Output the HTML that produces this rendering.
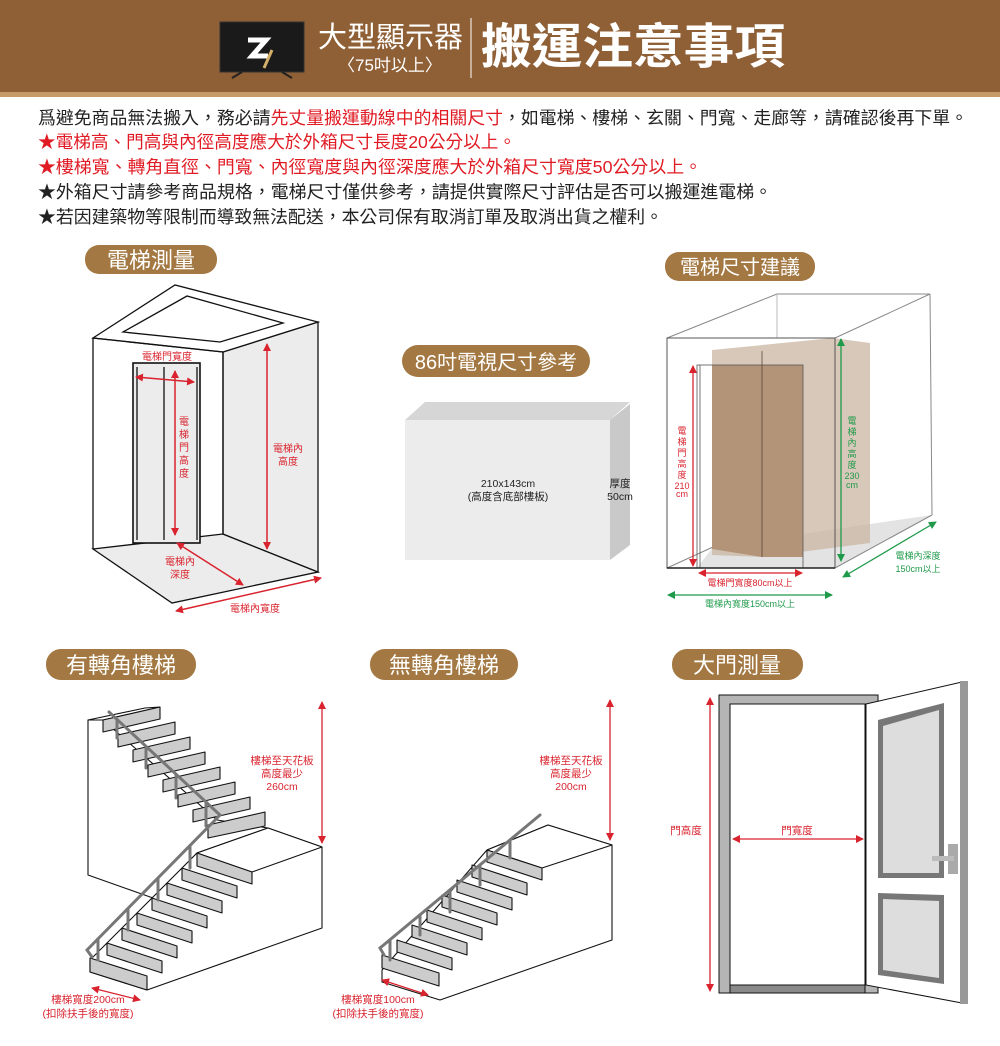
<!DOCTYPE html>
<html><head><meta charset="utf-8"><style>
body{margin:0;width:1000px;height:1046px;background:#fff;overflow:hidden;font-family:"Liberation Sans","Noto Sans CJK TC",sans-serif}
svg{display:block}
text{font-family:"Liberation Sans","Noto Sans CJK TC",sans-serif}
</style></head><body>
<svg width="1000" height="1046" viewBox="0 0 1000 1046" xmlns="http://www.w3.org/2000/svg">
<defs>
<marker id="ar" markerWidth="8" markerHeight="8" refX="7" refY="4" orient="auto-start-reverse" markerUnits="userSpaceOnUse"><path d="M0,0 L8,4 L0,8 z" fill="#d9232e"/></marker>
<marker id="ag" markerWidth="8" markerHeight="8" refX="7" refY="4" orient="auto-start-reverse" markerUnits="userSpaceOnUse"><path d="M0,0 L8,4 L0,8 z" fill="#1e9a4a"/></marker>
</defs>
<!-- header -->
<rect x="0" y="0" width="1000" height="92" fill="#8f5f36"/>
<rect x="0" y="92" width="1000" height="5" fill="#c49a66"/>
<rect x="220" y="22" width="84" height="50" fill="#1a1a1a" stroke="#333"/>
<path d="M248 40 h18 l-14 16 h16" stroke="#fff" stroke-width="5" fill="none"/>
<path d="M272 50 l-8 18" stroke="#d4b06a" stroke-width="3"/>
<path d="M232 78 l10 -6 M292 78 l-10 -6" stroke="#222" stroke-width="2"/>
<text x="318" y="47" font-size="29" fill="#fff" textLength="145" lengthAdjust="spacingAndGlyphs">大型顯示器</text>
<text x="338" y="71" font-size="17" fill="#fff">〈75吋以上〉</text>
<line x1="471" y1="18" x2="471" y2="78" stroke="#fff" stroke-width="1"/>
<text x="481" y="63" font-size="48" font-weight="bold" fill="#fff" textLength="304" lengthAdjust="spacingAndGlyphs">搬運注意事項</text>
<!-- notes -->
<g font-size="17.5">
<text x="38" y="124" fill="#222" textLength="930" lengthAdjust="spacingAndGlyphs">爲避免商品無法搬入，務必請<tspan fill="#e01b24">先丈量搬運動線中的相關尺寸</tspan>，如電梯、樓梯、玄關、門寬、走廊等，請確認後再下單。</text>
<text x="38" y="148" fill="#e01b24" textLength="478" lengthAdjust="spacingAndGlyphs">★電梯高、門高與內徑高度應大於外箱尺寸長度20公分以上。</text>
<text x="38" y="173" fill="#e01b24" textLength="664" lengthAdjust="spacingAndGlyphs">★樓梯寬、轉角直徑、門寬、內徑寬度與內徑深度應大於外箱尺寸寬度50公分以上。</text>
<text x="38" y="198" fill="#222" textLength="734" lengthAdjust="spacingAndGlyphs">★外箱尺寸請參考商品規格，電梯尺寸僅供參考，請提供實際尺寸評估是否可以搬運進電梯。</text>
<text x="38" y="223" fill="#222" textLength="625" lengthAdjust="spacingAndGlyphs">★若因建築物等限制而導致無法配送，本公司保有取消訂單及取消出貨之權利。</text>
</g>
<!-- pills -->
<g fill="#a37842">
<rect x="85" y="245" width="132" height="29" rx="14"/>
<rect x="665" y="252" width="150" height="29" rx="14"/>
<rect x="402" y="345" width="188" height="32" rx="16"/>
<rect x="46" y="649" width="150" height="31" rx="15"/>
<rect x="370" y="649" width="148" height="31" rx="15"/>
<rect x="672" y="649" width="131" height="31" rx="15"/>
</g>
<g fill="#fff" font-size="22" text-anchor="middle">
<text x="151" y="268">電梯測量</text>
<text x="740" y="274" font-size="20">電梯尺寸建議</text>
<text x="496" y="369" font-size="20">86吋電視尺寸參考</text>
<text x="121" y="673">有轉角樓梯</text>
<text x="444" y="673">無轉角樓梯</text>
<text x="737" y="673">大門測量</text>
</g>
<!-- elevator left -->
<g stroke="#111" stroke-width="1.3" fill="none">
<polygon points="93,549 223,534 318,572 172,603" fill="#ececec"/>
<polygon points="223,352 318,322 318,572 223,534" fill="#ececec"/>
<polygon points="93,338 175,285 318,322 223,352" fill="#fff"/>
<polygon points="123,332 187,296 283,323 220,342"/>
<polyline points="93,338 93,549"/>
<line x1="223" y1="352" x2="223" y2="534"/>
<line x1="93" y1="338" x2="223" y2="352"/>
<rect x="133" y="363" width="67" height="180" fill="#ececec" stroke-width="1.6"/>
<line x1="164" y1="367" x2="164" y2="540"/>
<line x1="137" y1="367" x2="137" y2="540"/>
<line x1="197" y1="367" x2="197" y2="540"/>
</g>
<g stroke="#d9232e" stroke-width="1.5">
<line x1="136" y1="377" x2="194" y2="382" marker-start="url(#ar)" marker-end="url(#ar)"/>
<line x1="175" y1="371" x2="175" y2="535" marker-start="url(#ar)" marker-end="url(#ar)"/>
<line x1="267" y1="344" x2="267" y2="549" marker-start="url(#ar)" marker-end="url(#ar)"/>
<line x1="177" y1="543" x2="243" y2="585" marker-start="url(#ar)" marker-end="url(#ar)"/>
<line x1="176" y1="611" x2="321" y2="578" marker-start="url(#ar)" marker-end="url(#ar)"/>
</g>
<g fill="#d9232e" font-size="10" text-anchor="middle">
<text x="167" y="360">電梯門寬度</text>
<text x="184" y="425">電</text><text x="184" y="438">梯</text><text x="184" y="451">門</text><text x="184" y="464">高</text><text x="184" y="477">度</text>
<text x="288" y="452">電梯內</text><text x="288" y="465">高度</text>
<text x="180" y="565">電梯內</text><text x="180" y="578">深度</text>
<text x="255" y="612">電梯內寬度</text>
</g>
<!-- 86 box -->
<polygon points="405,420 425,402 630,402 610,420" fill="#d6d6d6"/>
<polygon points="610,420 630,404 630,545 610,560" fill="#c9c9c9"/>
<rect x="405" y="420" width="205" height="140" fill="#ececec"/>
<g font-size="10.5" fill="#222" text-anchor="middle">
<text x="508" y="487">210x143cm</text>
<text x="508" y="500">(高度含底部樓板)</text>
<text x="620" y="487">厚度</text><text x="620" y="500">50cm</text>
</g>
<!-- elevator right -->
<g stroke="#888" stroke-width="1" fill="none">
<polygon points="697,568 713,547 932,515 835,568" fill="#e3e3e3" stroke="none"/>
<line x1="667" y1="338" x2="777" y2="294"/>
<line x1="777" y1="294" x2="930" y2="294"/>
<line x1="835" y1="338" x2="930" y2="294"/>
<line x1="930" y1="294" x2="932" y2="515"/>
<line x1="777" y1="294" x2="777" y2="338" stroke="#bbb"/>
<line x1="835" y1="568" x2="932" y2="515"/>
<line x1="667" y1="568" x2="713" y2="547"/>
</g>
<polygon points="712,350 833,338 870,343 870,543 762,557 712,555" fill="#cbb5a2" opacity="0.75"/>
<polygon points="712,365 803,365 803,557 762,557 712,549" fill="#b39478"/>
<line x1="762" y1="351" x2="762" y2="557" stroke="#5a4535" stroke-width="0.8"/>
<rect x="697" y="365" width="106" height="203" fill="none" stroke="#555" stroke-width="0.8"/>
<line x1="700" y1="365" x2="700" y2="568" stroke="#555" stroke-width="0.8"/>
<rect x="667" y="338" width="168" height="230" fill="none" stroke="#555" stroke-width="1"/>
<line x1="667" y1="568" x2="835" y2="568" stroke="#222" stroke-width="1.5"/>
<line x1="693" y1="366" x2="693" y2="566" stroke="#d9232e" stroke-width="1.3" marker-start="url(#ar)" marker-end="url(#ar)"/>
<line x1="841" y1="339" x2="841" y2="561" stroke="#1e9a4a" stroke-width="1.3" marker-start="url(#ag)" marker-end="url(#ag)"/>
<line x1="699" y1="573" x2="802" y2="573" stroke="#d9232e" stroke-width="1.3" marker-start="url(#ar)" marker-end="url(#ar)"/>
<line x1="668" y1="595" x2="832" y2="595" stroke="#1e9a4a" stroke-width="1.3" marker-start="url(#ag)" marker-end="url(#ag)"/>
<line x1="843" y1="577" x2="936" y2="522" stroke="#1e9a4a" stroke-width="1.3" marker-start="url(#ag)" marker-end="url(#ag)"/>
<g font-size="9" text-anchor="middle">
<g fill="#d9232e"><text x="682" y="434">電</text><text x="682" y="445">梯</text><text x="682" y="456">門</text><text x="682" y="467">高</text><text x="682" y="478">度</text><text x="682" y="489">210</text><text x="682" y="497">cm</text>
<text x="750" y="586">電梯門寬度80cm以上</text></g>
<g fill="#1e9a4a"><text x="852" y="424">電</text><text x="852" y="435">梯</text><text x="852" y="446">內</text><text x="852" y="457">高</text><text x="852" y="468">度</text><text x="852" y="479">230</text><text x="852" y="488">cm</text>
<text x="750" y="607">電梯內寬度150cm以上</text>
<text x="918" y="559">電梯內深度</text><text x="918" y="572">150cm以上</text></g>
</g>
<!-- stairs with corner -->
<g stroke="#111" stroke-width="1.1" stroke-linejoin="round">
<polygon points="88,720 88,875 153,898 197,853 268,828 217,820 103,720" fill="#fff"/>
<polygon points="268,828 322,847 322,928 147,990 90,972 90,960 197,853" fill="#fff"/>
<polygon points="197,853 268,828 322,847 252,872" fill="#fff"/>
<polygon points="88,720 103,720 160,707 145,708" fill="#fff"/>
<g fill="#ccc">
<polygon points="103,720 160,707 160,719 103,732"/>
<polygon points="118,735 175,722 175,734 118,747"/>
<polygon points="133,750 190,737 190,749 133,762"/>
<polygon points="148,765 205,752 205,764 148,777"/>
<polygon points="163,780 220,767 220,779 163,792"/>
<polygon points="178,795 235,782 235,794 178,807"/>
<polygon points="193,810 250,797 250,809 193,822"/>
<polygon points="208,825 265,812 265,826 208,838"/>
</g>
<g fill="#ccc">
<polygon points="197,853 252,872 252,884 197,866"/>
<polygon points="182,868 237,886 237,898 182,880"/>
<polygon points="167,883 222,901 222,913 167,895"/>
<polygon points="152,898 207,916 207,928 152,910"/>
<polygon points="137,913 192,931 192,943 137,925"/>
<polygon points="122,928 177,946 177,958 122,940"/>
<polygon points="107,943 162,961 162,973 107,955"/>
<polygon points="90,958 147,976 147,990 90,972"/>
</g>
</g>
<g stroke="#777" stroke-width="3" fill="none" stroke-linecap="round">
<polyline points="109,712 220,815 87,950 92,957"/>
<line x1="117" y1="720" x2="117" y2="738"/><line x1="146" y1="747" x2="146" y2="768"/><line x1="176" y1="775" x2="176" y2="798"/><line x1="206" y1="803" x2="206" y2="826"/>
<line x1="190" y1="847" x2="190" y2="868"/><line x1="158" y1="879" x2="158" y2="900"/><line x1="128" y1="909" x2="128" y2="930"/><line x1="98" y1="940" x2="98" y2="960"/>
</g>
<line x1="322" y1="702" x2="322" y2="843" stroke="#d9232e" stroke-width="1.3" marker-start="url(#ar)" marker-end="url(#ar)"/>
<line x1="92" y1="988" x2="140" y2="1000" stroke="#d9232e" stroke-width="1.3" marker-start="url(#ar)" marker-end="url(#ar)"/>
<g fill="#d9232e" font-size="10.5" text-anchor="middle">
<text x="282" y="764">樓梯至天花板</text><text x="282" y="777">高度最少</text><text x="282" y="790">260cm</text>
<text x="88" y="1003">樓梯寬度200cm</text><text x="88" y="1017">(扣除扶手後的寬度)</text>
</g>
<!-- stairs no corner -->
<g stroke="#111" stroke-width="1.1" stroke-linejoin="round">
<polygon points="548,825 612,845 612,940 440,1000 382,982 382,970 487,850" fill="#fff"/>
<polygon points="487,850 548,825 612,845 542,868" fill="#fff"/>
<g fill="#ccc">
<polygon points="487,850 542,868 542,880 487,862"/>
<polygon points="472,865 527,883 527,895 472,877"/>
<polygon points="457,880 512,898 512,910 457,892"/>
<polygon points="442,895 497,913 497,925 442,907"/>
<polygon points="427,910 482,928 482,940 427,922"/>
<polygon points="412,925 467,943 467,955 412,937"/>
<polygon points="397,940 452,958 452,970 397,952"/>
<polygon points="382,955 439,973 439,986 382,968"/>
</g>
</g>
<g stroke="#777" stroke-width="3" fill="none" stroke-linecap="round">
<polyline points="540,815 380,948 384,955"/>
<line x1="510" y1="840" x2="510" y2="858"/><line x1="480" y1="865" x2="480" y2="885"/><line x1="450" y1="890" x2="450" y2="912"/><line x1="420" y1="915" x2="420" y2="935"/><line x1="390" y1="940" x2="390" y2="960"/>
</g>
<line x1="610" y1="700" x2="610" y2="840" stroke="#d9232e" stroke-width="1.3" marker-start="url(#ar)" marker-end="url(#ar)"/>
<line x1="382" y1="980" x2="428" y2="995" stroke="#d9232e" stroke-width="1.3" marker-start="url(#ar)" marker-end="url(#ar)"/>
<g fill="#d9232e" font-size="10.5" text-anchor="middle">
<text x="571" y="764">樓梯至天花板</text><text x="571" y="777">高度最少</text><text x="571" y="790">200cm</text>
<text x="378" y="1003">樓梯寬度100cm</text><text x="378" y="1017">(扣除扶手後的寬度)</text>
</g>
<!-- door -->
<rect x="719" y="695" width="159" height="298" fill="#b5b5b5" stroke="#111" stroke-width="1"/>
<rect x="730" y="704" width="135" height="281" fill="#fff" stroke="#111" stroke-width="1"/>
<rect x="730" y="985" width="135" height="8" fill="#8a8a8a" stroke="#111" stroke-width="1"/>
<polygon points="866,704 962,682 962,1003 866,985" fill="#fff" stroke="#111" stroke-width="1"/>
<rect x="960" y="681" width="8" height="323" fill="#999"/>
<polygon points="878,720 944,703 944,878 878,878" fill="#777"/>
<polygon points="883,726 939,710 939,873 883,873" fill="#ddd"/>
<polygon points="878,893 944,895 944,984 878,975" fill="#777"/>
<polygon points="883,899 939,901 939,978 883,970" fill="#ddd"/>
<rect x="948" y="844" width="10" height="30" fill="#aaa"/>
<rect x="932" y="856" width="22" height="5" fill="#bbb"/>
<line x1="710" y1="698" x2="710" y2="991" stroke="#d9232e" stroke-width="1.3" marker-start="url(#ar)" marker-end="url(#ar)"/>
<line x1="733" y1="839" x2="863" y2="839" stroke="#d9232e" stroke-width="1.3" marker-start="url(#ar)" marker-end="url(#ar)"/>
<g fill="#d9232e" font-size="10.5" text-anchor="middle"><text x="686" y="834">門高度</text><text x="797" y="834">門寬度</text></g>
</svg>
</body></html>
